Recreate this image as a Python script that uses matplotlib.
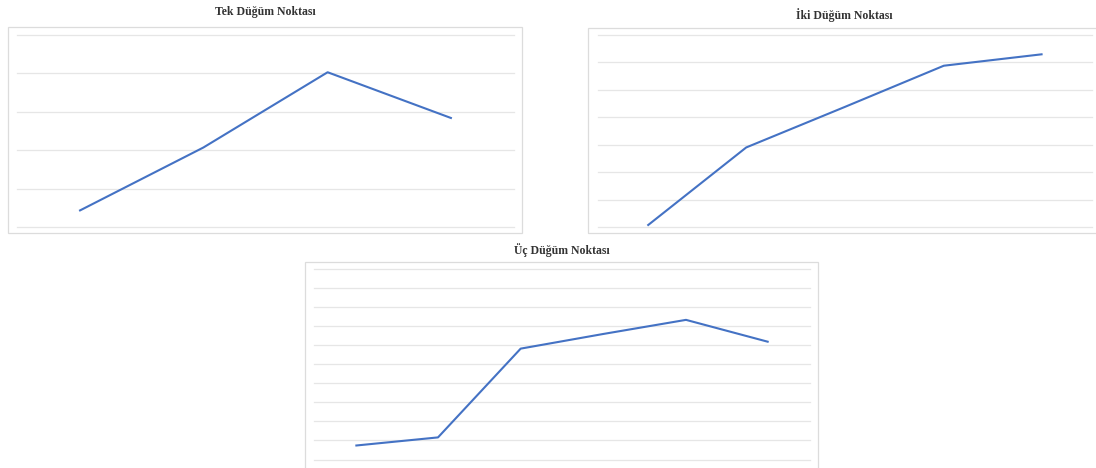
import matplotlib
matplotlib.use("Agg")
import matplotlib.pyplot as plt
from matplotlib.patches import Rectangle

# values (units = gridline steps, no axis labels shown)
tek_titles = "Tek Düğüm Noktası"
tek_vals = [0.42, 2.07, 4.03, 2.83]

iki_title = "İki Düğüm Noktası"
iki_vals = [0.05, 2.90, 4.38, 5.88, 6.30]

uc_title = "Üç Düğüm Noktası"
uc_vals = [0.73, 1.16, 5.82, 6.59, 7.33, 6.17]

W, H = 1096, 468
fig = plt.figure(figsize=(W / 100, H / 100), dpi=100)

line_col = "#4472C4"
grid_col = "#e6e6e6"
frame_col = "#dcdcdc"


def px_box(x0, y0, x1, y1):
    # pixel box (from top-left) -> figure fraction [left, bottom, w, h]
    return [x0 / W, 1 - y1 / H, (x1 - x0) / W, (y1 - y0) / H]


def panel(frame, plot, vals, ntop, title, title_y):
    fx = px_box(*frame)
    fig.add_artist(Rectangle((fx[0], fx[1]), fx[2], fx[3], transform=fig.transFigure,
                             fill=False, edgecolor=frame_col, linewidth=0.9))
    ax = fig.add_axes(px_box(*plot))
    ax.plot(range(len(vals)), vals, color=line_col, linewidth=1.5, solid_capstyle="butt")
    ax.set_xlim(-0.5, len(vals) - 0.5)
    ax.set_ylim(0, ntop)
    for g in range(ntop + 1):
        ax.axhline(g, color=grid_col, linewidth=0.9, zorder=0, clip_on=False)
    ax.set_xticks([])
    ax.set_yticks([])
    for s in ax.spines.values():
        s.set_visible(False)
    ax.patch.set_alpha(0)
    cx = (frame[0] + frame[2]) / 2
    fig.text(cx / W, 1 - title_y / H, title, ha="center", va="center",
             fontsize=8.5, fontweight="bold", family="Liberation Serif", color="#333333")
    return ax


panel((8, 27, 522, 233), (17, 35, 514, 227), tek_vals, 5, tek_titles, 12)
panel((588, 28, 1100, 233), (598, 35, 1092, 227), iki_vals, 7, iki_title, 15)
panel((305, 262, 818, 470), (314, 269, 810, 459.5), uc_vals, 10, uc_title, 250)

fig.savefig("out.png", dpi=100)
